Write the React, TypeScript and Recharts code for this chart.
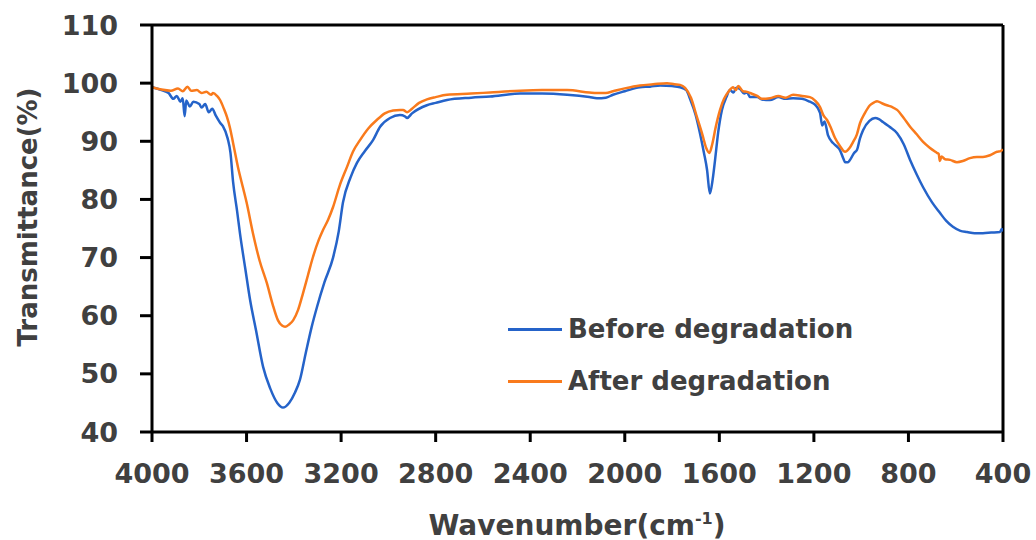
import React from 'react';
import { LineChart, Line, XAxis, YAxis, ReferenceLine } from 'recharts';

// FTIR spectra
const beforeWn = [
  4000, 3960, 3930, 3910, 3895, 3880, 3870, 3862, 3855, 3840, 3825, 3800, 3790, 3775, 3760, 3745, 3730, 3712,
  3700, 3680, 3668, 3657, 3640, 3628, 3605, 3585, 3560, 3530, 3500, 3470, 3446, 3420, 3395, 3374, 3350, 3325,
  3302, 3270, 3234, 3210, 3192, 3160, 3133, 3100, 3065, 3035, 2993, 2951, 2930, 2921, 2900, 2837, 2800, 2752,
  2650, 2570, 2443, 2350, 2244, 2150, 2118, 2080, 2050, 2000, 1936, 1893, 1850, 1800, 1766, 1740, 1724, 1700,
  1682, 1665, 1652, 1640, 1628, 1618, 1605, 1589, 1570, 1555, 1540, 1528, 1513, 1495, 1483, 1470, 1440, 1420,
  1386, 1350, 1320, 1288, 1250, 1217, 1195, 1174, 1165, 1155, 1140, 1119, 1100, 1090, 1075, 1068, 1055, 1047,
  1030, 1018, 1005, 992, 965, 941, 925, 908, 880, 848, 820, 793, 765, 738, 700, 667, 640, 612, 580, 552, 520,
  485, 450, 413, 405, 400,
];
const beforeT = [
  99.3, 98.8, 98.3, 97.3, 97.8, 96.8, 97.4, 94.3, 97.0, 96.0, 96.8, 96.4, 95.8, 96.4, 95.0, 95.6, 94.4, 93.2,
  92.6, 90.5, 88.0, 83.0, 78.0, 74.2, 68.0, 62.7, 57.5, 51.2, 47.5, 45.0, 44.2, 45.0, 46.8, 49.0, 53.5, 58.0,
  61.5, 65.8, 70.0, 74.5, 79.5, 83.8, 86.3, 88.3, 90.2, 92.5, 94.0, 94.5, 94.3, 94.0, 94.8, 96.2, 96.6, 97.1,
  97.5, 97.7, 98.2, 98.2, 98.0, 97.6, 97.4, 97.5, 98.0, 98.6, 99.3, 99.4, 99.6, 99.5, 99.3, 98.8, 97.3, 94.5,
  91.4, 88.0, 85.1, 81.0, 83.5, 86.8, 91.5, 95.4, 97.6, 98.8, 98.4, 99.2, 99.0, 98.2, 98.4, 97.6, 97.6, 97.2,
  97.1, 97.6, 97.3, 97.4, 97.3, 96.8, 96.3, 94.9, 92.7, 93.4, 91.0, 89.7, 89.0, 88.5, 87.0, 86.4, 86.4, 86.8,
  88.0, 88.5, 90.5, 91.9, 93.5, 94.0, 93.8, 93.3, 92.5, 91.4, 89.5, 86.8, 84.3, 82.1, 79.5, 77.7, 76.3, 75.3,
  74.6, 74.4, 74.2, 74.2, 74.3, 74.4, 74.9, 74.5,
];

const afterWn = [
  4000, 3960, 3920, 3890, 3870, 3850, 3835, 3810, 3790, 3770, 3750, 3742, 3725, 3712, 3695, 3683, 3670, 3657,
  3636, 3615, 3600, 3573, 3545, 3514, 3490, 3467, 3450, 3437, 3420, 3403, 3382, 3361, 3340, 3319, 3295, 3277,
  3255, 3234, 3205, 3175, 3150, 3120, 3085, 3048, 3015, 2980, 2951, 2938, 2921, 2900, 2870, 2837, 2800, 2752,
  2650, 2570, 2443, 2350, 2244, 2150, 2118, 2080, 2050, 2000, 1936, 1880, 1821, 1790, 1766, 1745, 1720, 1695,
  1672, 1655, 1642, 1630, 1615, 1597, 1580, 1560, 1542, 1530, 1520, 1500, 1483, 1470, 1440, 1420, 1386, 1350,
  1320, 1288, 1250, 1217, 1195, 1174, 1160, 1145, 1130, 1111, 1090, 1068, 1050, 1034, 1018, 1005, 985, 963, 945,
  933, 910, 891, 870, 848, 820, 793, 765, 738, 710, 679, 672, 667, 660, 645, 624, 595, 570, 540, 510, 485, 455,
  425, 410, 400,
];
const afterT = [
  99.3, 98.9, 98.7, 99.1, 98.6, 99.4, 98.7, 98.8, 98.3, 98.5, 98.0, 98.3, 97.8, 97.1, 95.5, 94.2, 92.3, 89.7,
  85.5, 82.0, 79.5, 74.2, 69.5, 65.6, 62.0, 59.2, 58.3, 58.1, 58.5, 59.2, 61.0, 63.9, 67.0, 70.1, 73.0, 74.7,
  76.5, 78.7, 82.5, 85.6, 88.2, 90.2, 92.2, 93.7, 94.8, 95.3, 95.4, 95.4, 95.0, 95.6, 96.6, 97.2, 97.6, 98.0,
  98.2, 98.4, 98.7, 98.8, 98.8, 98.4, 98.3, 98.3, 98.6, 99.1, 99.6, 99.8, 100.0, 99.8, 99.7, 99.2, 97.5, 94.2,
  91.2, 88.8, 88.0, 89.5, 92.5, 95.4, 97.3, 98.6, 99.3, 98.8, 99.5, 98.6, 98.5, 98.3, 97.8, 97.3, 97.4, 97.8,
  97.5, 98.0, 97.8, 97.6, 97.0, 95.9, 94.5, 93.7, 92.5, 90.6, 89.2, 88.2, 88.8, 89.9, 91.2, 93.1, 94.8, 96.2, 96.7,
  96.9, 96.5, 96.2, 95.9, 95.4, 94.0, 92.5, 91.2, 89.9, 88.9, 88.0, 87.8, 86.6, 87.4, 86.9, 86.8, 86.4, 86.6, 87.1,
  87.3, 87.3, 87.6, 88.2, 88.3, 88.6,
];

const xTicks = [4000, 3600, 3200, 2800, 2400, 2000, 1600, 1200, 800, 400];
const yTicks = [40, 50, 60, 70, 80, 90, 100, 110];

const BLUE = '#2563c9';
const ORANGE = '#f97a1c';
const TEXT = '#404040';
const FONT = '"DejaVu Sans", Arial, sans-serif';

const beforeData = beforeWn.map((w, i) => ({ w, t: beforeT[i] }));
const afterData = afterWn.map((w, i) => ({ w, t: afterT[i] }));

const tickStyle = { fill: TEXT, fontSize: 27, fontWeight: 'bold', fontFamily: FONT };

const legendItems = [
  { name: 'Before degradation', color: BLUE },
  { name: 'After degradation', color: ORANGE },
];

export default function App() {
  return (
    <div style={{ position: 'absolute', left: 0, top: 0, width: 1036, height: 540, background: '#fff' }}>
      <LineChart width={1036} height={540} margin={{ top: 25, right: 33, bottom: 28, left: 52 }}>
        <XAxis
          type="number"
          dataKey="w"
          domain={[400, 4000]}
          reversed
          ticks={xTicks}
          interval={0}
          height={80}
          tick={tickStyle}
          tickSize={10}
          tickMargin={22}
          axisLine={{ stroke: '#000', strokeWidth: 3 }}
          tickLine={{ stroke: '#000', strokeWidth: 3 }}
          allowDataOverflow
        />
        <YAxis
          type="number"
          domain={[40, 110]}
          ticks={yTicks}
          interval={0}
          width={100}
          tick={tickStyle}
          tickSize={12}
          tickMargin={22}
          axisLine={{ stroke: '#000', strokeWidth: 3 }}
          tickLine={{ stroke: '#000', strokeWidth: 3 }}
        />
        <ReferenceLine y={110} stroke="#000" strokeWidth={3} />
        <ReferenceLine x={400} stroke="#000" strokeWidth={3} />
        <Line
          data={beforeData}
          dataKey="t"
          name="Before degradation"
          type="monotone"
          stroke={BLUE}
          strokeWidth={2.5}
          dot={false}
          isAnimationActive={false}
        />
        <Line
          data={afterData}
          dataKey="t"
          name="After degradation"
          type="monotone"
          stroke={ORANGE}
          strokeWidth={2.5}
          dot={false}
          isAnimationActive={false}
        />
      </LineChart>

      {/* legend */}
      <div
        style={{
          position: 'absolute',
          left: 508,
          top: 303,
          fontFamily: FONT,
          fontWeight: 'bold',
          fontSize: 26,
          color: TEXT,
        }}
      >
        {legendItems.map((it) => (
          <div key={it.name} style={{ display: 'flex', alignItems: 'center', height: 52 }}>
            <div style={{ width: 54, height: 3, background: it.color, marginRight: 6 }} />
            <span style={{ whiteSpace: 'nowrap' }}>{it.name}</span>
          </div>
        ))}
      </div>

      <div
        style={{
          position: 'absolute',
          left: 28,
          top: 217,
          transform: 'translate(-50%, -50%) rotate(-90deg)',
          whiteSpace: 'nowrap',
          fontFamily: FONT,
          fontWeight: 'bold',
          fontSize: 26,
          color: TEXT,
        }}
      >
        Transmittance(%)
      </div>
      <div
        style={{
          position: 'absolute',
          left: 577,
          top: 525,
          transform: 'translate(-50%, -50%)',
          whiteSpace: 'nowrap',
          fontFamily: FONT,
          fontWeight: 'bold',
          fontSize: 28,
          color: TEXT,
        }}
      >
        Wavenumber(cm<sup style={{ fontSize: 16 }}>-1</sup>)
      </div>
    </div>
  );
}
